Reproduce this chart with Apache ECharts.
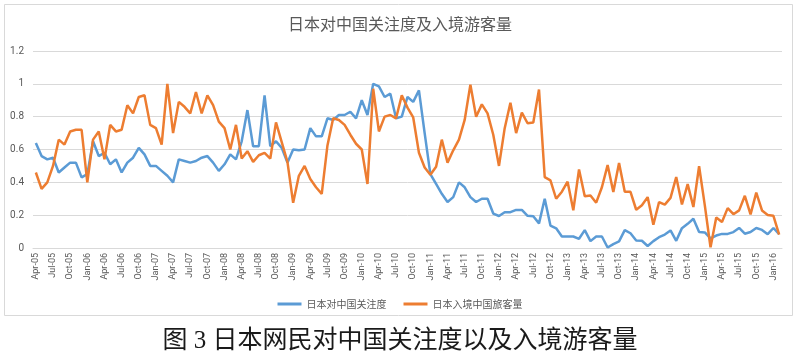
<!DOCTYPE html>
<html>
<head>
<meta charset="utf-8">
<script src="https://cdn.jsdelivr.net/npm/echarts@6/dist/echarts.min.js"></script>
<style>
html,body{margin:0;padding:0;background:#fff;}
#chart{width:800px;height:361px;}
</style>
</head>
<body>
<div id="chart"></div>
<script>
var months = [
'Apr-05','May-05','Jun-05','Jul-05','Aug-05','Sep-05','Oct-05','Nov-05','Dec-05',
'Jan-06','Feb-06','Mar-06','Apr-06','May-06','Jun-06','Jul-06','Aug-06','Sep-06','Oct-06','Nov-06','Dec-06',
'Jan-07','Feb-07','Mar-07','Apr-07','May-07','Jun-07','Jul-07','Aug-07','Sep-07','Oct-07','Nov-07','Dec-07',
'Jan-08','Feb-08','Mar-08','Apr-08','May-08','Jun-08','Jul-08','Aug-08','Sep-08','Oct-08','Nov-08','Dec-08',
'Jan-09','Feb-09','Mar-09','Apr-09','May-09','Jun-09','Jul-09','Aug-09','Sep-09','Oct-09','Nov-09','Dec-09',
'Jan-10','Feb-10','Mar-10','Apr-10','May-10','Jun-10','Jul-10','Aug-10','Sep-10','Oct-10','Nov-10','Dec-10',
'Jan-11','Feb-11','Mar-11','Apr-11','May-11','Jun-11','Jul-11','Aug-11','Sep-11','Oct-11','Nov-11','Dec-11',
'Jan-12','Feb-12','Mar-12','Apr-12','May-12','Jun-12','Jul-12','Aug-12','Sep-12','Oct-12','Nov-12','Dec-12',
'Jan-13','Feb-13','Mar-13','Apr-13','May-13','Jun-13','Jul-13','Aug-13','Sep-13','Oct-13','Nov-13','Dec-13',
'Jan-14','Feb-14','Mar-14','Apr-14','May-14','Jun-14','Jul-14','Aug-14','Sep-14','Oct-14','Nov-14','Dec-14',
'Jan-15','Feb-15','Mar-15','Apr-15','May-15','Jun-15','Jul-15','Aug-15','Sep-15','Oct-15','Nov-15','Dec-15',
'Jan-16','Feb-16'
];

var attention = [
0.64,0.56,0.54,0.55,0.46,0.49,0.52,0.52,0.43,
0.45,0.65,0.56,0.58,0.51,0.54,0.46,0.52,0.55,0.61,0.57,0.50,
0.50,0.47,0.44,0.40,0.54,0.53,0.52,0.53,0.55,0.56,0.52,0.47,
0.51,0.57,0.54,0.65,0.84,0.62,0.62,0.93,0.62,0.65,0.61,0.52,
0.60,0.595,0.60,0.73,0.68,0.68,0.79,0.78,0.81,0.81,0.83,0.79,
0.90,0.81,1.00,0.985,0.92,0.94,0.79,0.80,0.92,0.89,0.96,0.70,
0.45,0.39,0.33,0.28,0.31,0.40,0.37,0.31,0.28,0.30,0.30,0.21,
0.195,0.218,0.218,0.232,0.232,0.196,0.193,0.15,0.30,0.137,0.12,0.07,
0.07,0.07,0.056,0.109,0.042,0.07,0.07,0.003,0.024,0.04,0.109,0.09,
0.046,0.044,0.012,0.042,0.066,0.082,0.107,0.044,0.121,0.147,0.178,0.097,
0.095,0.058,0.076,0.086,0.086,0.097,0.122,0.087,0.097,0.122,0.11,0.084,
0.122,0.084
];

var tourists = [
0.46,0.36,0.40,0.50,0.66,0.63,0.71,0.72,0.72,
0.40,0.66,0.71,0.54,0.75,0.71,0.72,0.87,0.82,0.92,0.93,0.75,
0.73,0.63,1.00,0.70,0.89,0.86,0.82,0.95,0.82,0.93,0.87,0.77,
0.73,0.60,0.75,0.545,0.59,0.525,0.565,0.58,0.545,0.765,0.645,0.525,
0.275,0.44,0.50,0.42,0.37,0.33,0.625,0.79,0.78,0.75,0.69,0.635,
0.60,0.39,0.97,0.71,0.80,0.81,0.79,0.93,0.855,0.795,0.58,0.49,
0.446,0.495,0.66,0.52,0.595,0.66,0.78,0.995,0.80,0.875,0.82,0.69,
0.50,0.73,0.885,0.70,0.825,0.76,0.765,0.965,0.432,0.412,0.30,0.343,
0.404,0.23,0.478,0.315,0.32,0.276,0.37,0.505,0.341,0.518,0.342,0.342,
0.233,0.26,0.31,0.142,0.28,0.264,0.305,0.432,0.265,0.389,0.25,0.498,
0.26,0.004,0.186,0.159,0.243,0.206,0.229,0.318,0.205,0.337,0.229,0.201,
0.196,0.082
];

var seriesNames = ['日本对中国关注度','日本入境中国旅客量'];
var chartTitle = '日本对中国关注度及入境游客量';
var caption = '图 3 日本网民对中国关注度以及入境游客量';

var chart = echarts.init(document.getElementById('chart'), null, {renderer:'canvas'});
var gray = '#595959';
chart.setOption({
  animation: false,
  backgroundColor: '#fff',
  title: {
    text: chartTitle,
    left: 'center',
    top: 16,
    padding: 0,
    textStyle: {fontSize: 16, fontWeight: 'normal', color: gray, fontFamily: '"Noto Sans CJK SC", sans-serif'}
  },
  legend: {
    data: seriesNames,
    left: 'center',
    top: 294,
    itemGap: 17,
    itemWidth: 24,
    itemHeight: 3,
    icon: 'rect',
    textStyle: {fontSize: 10, color: gray, fontFamily: '"Noto Sans CJK SC", sans-serif'}
  },
  grid: {left: 33, right: 18, top: 51, bottom: 113, containLabel: false},
  xAxis: {
    type: 'category',
    data: months,
    boundaryGap: true,
    axisLine: {show: true, lineStyle: {color: '#d9d9d9', width: 1}},
    axisTick: {show: false},
    axisLabel: {
      interval: 2,
      rotate: 90,
      margin: 5,
      fontSize: 9,
      color: gray,
      fontFamily: '"Liberation Sans Narrow", "Arial Narrow", "Roboto", sans-serif'
    },
    splitLine: {show: false}
  },
  yAxis: {
    type: 'value',
    min: 0,
    max: 1.2,
    interval: 0.2,
    axisLine: {show: false},
    axisTick: {show: false},
    axisLabel: {fontSize: 10, color: gray, margin: 9, fontFamily: '"Liberation Sans Narrow", "Roboto", sans-serif'},
    splitLine: {lineStyle: {color: '#d9d9d9', width: 1}}
  },
  series: [
    {
      name: seriesNames[0],
      type: 'line',
      data: attention,
      symbol: 'none',
      smooth: false,
      lineStyle: {color: '#5b9bd5', width: 2.5},
      itemStyle: {color: '#5b9bd5'}
    },
    {
      name: seriesNames[1],
      type: 'line',
      data: tourists,
      symbol: 'none',
      smooth: false,
      lineStyle: {color: '#ed7d31', width: 2.5},
      itemStyle: {color: '#ed7d31'}
    }
  ],
  graphic: [
    {
      type: 'rect',
      shape: {x: 4.5, y: 4.5, width: 788, height: 311},
      style: {fill: 'none', stroke: '#d9d9d9', lineWidth: 1},
      silent: true,
      z: -1
    },
    {
      type: 'text',
      left: 'center',
      top: 329,
      style: {
        text: caption,
        fontSize: 25,
        fill: '#1a1a1a',
        fontFamily: '"Liberation Serif", "Noto Sans CJK SC", serif'
      }
    }
  ]
});
</script>
</body>
</html>
